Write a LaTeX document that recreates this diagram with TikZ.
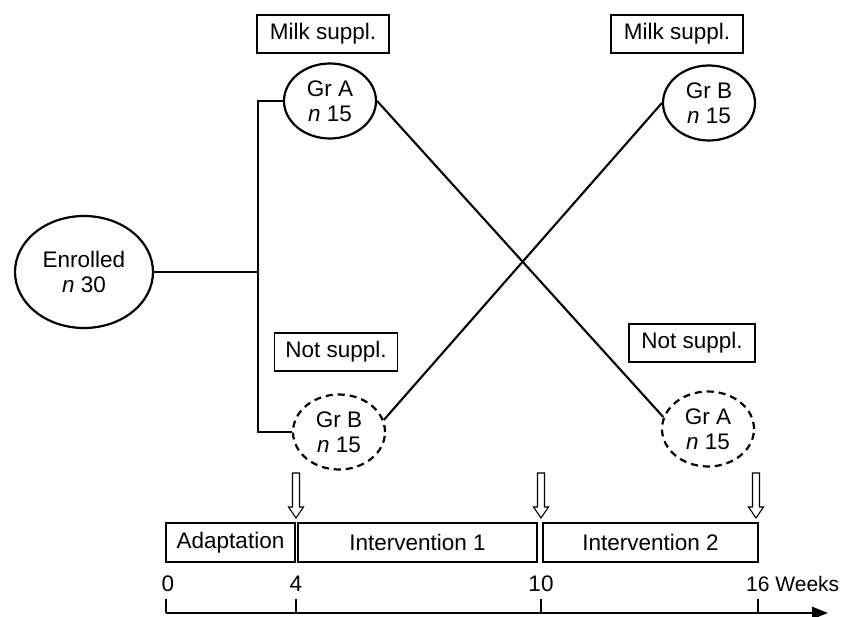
\documentclass[tikz,border=0pt]{standalone}
\usepackage{fontspec}
\setmainfont{Liberation Sans}
\usetikzlibrary{arrows.meta,shapes.geometric}
\begin{document}
\begin{tikzpicture}[x=1pt,y=-1pt,
  every node/.style={font=\fontsize{22.5}{25}\selectfont},
  grp/.style={ellipse,draw,line width=2.2pt,inner sep=0pt,minimum width=92pt,minimum height=75pt,align=center},
  grpdash/.style={grp,dash pattern=on 7pt off 5pt},
  lbl/.style={draw,line width=1.6pt,inner sep=0pt,minimum height=38pt},
  phase/.style={draw,line width=1.8pt,inner sep=0pt,minimum height=39pt},
  conn/.style={line width=2.1pt},
  hollowarrow/.pic={\draw[line width=1.1pt,fill=white] (-3.5,0) -- (-3.5,34) -- (-7.5,34) -- (0,45) -- (7.5,34) -- (3.5,34) -- (3.5,0) -- cycle;}
]
\useasboundingbox (0,0) rectangle (844,617);
% groups
\node[ellipse,draw,line width=2.2pt,inner sep=0pt,minimum width=138pt,minimum height=112pt,align=center] (enr) at (84,272) {Enrolled\\\textit{n}~30};
\node[grp] (grA1) at (330,101) {Gr A\\\textit{n}~15};
\node[grp] (grB1) at (709,103) {Gr B\\\textit{n}~15};
\node[grpdash] (grB2) at (339,432) {Gr B\\\textit{n}~15};
\node[grpdash] (grA2) at (708,429) {Gr A\\\textit{n}~15};
% labels
\node[lbl,minimum width=132pt] (ms1) at (323,34) {Milk suppl.};
\node[lbl,minimum width=132pt] (ms2) at (677,34) {Milk suppl.};
\node[lbl,minimum width=123pt] (ns1) at (336,352) {Not suppl.};
\node[lbl,minimum width=126pt] (ns2) at (692,343) {Not suppl.};
% connectors
\coordinate (jx) at (258,0);
\draw[conn] (grA1.west) -| (jx |- grB2.west) -- (grB2.west);
\draw[conn] (enr.east) -- (enr.east -| jx);
\draw[conn] (grA1.east) -- (grA2.165);
\draw[conn] (grB2.15) -- (grB1.west);
% phases
\node[phase,minimum width=129pt] (adapt) at (230.5,542.5) {Adaptation};
\node[phase,minimum width=239pt] (int1) at (417.5,542.5) {Intervention 1};
\node[phase,minimum width=215pt] (int2) at (650.5,542.5) {Intervention 2};
% hollow arrows
\pic at (296,473) {hollowarrow};
\pic at (541,473) {hollowarrow};
\pic at (756,473) {hollowarrow};
% axis
\coordinate (ax0) at (166,613);
\coordinate (ax4) at (296,613);
\coordinate (ax10) at (541,613);
\coordinate (ax16) at (758,613);
\coordinate (axend) at (828,613);
\draw[line width=2.6pt,-{Triangle[length=16pt,width=12pt]}] (ax0) -- (axend);
\draw[line width=2.6pt] (ax0) -- ++(0,-14);
\draw[line width=2.6pt] (ax4) -- ++(0,-14);
\draw[line width=2.6pt] (ax10) -- ++(0,-14);
\draw[line width=2.6pt] (ax16) -- ++(0,-14);
\node (t0) at (168,584) {0};
\node (t4) at (296,584) {4};
\node (t10) at (541,584) {10};
\node[anchor=west,inner sep=0pt,font=\fontsize{21}{24}\selectfont] (t16) at (746,584) {16 Weeks};
\end{tikzpicture}
\end{document}
